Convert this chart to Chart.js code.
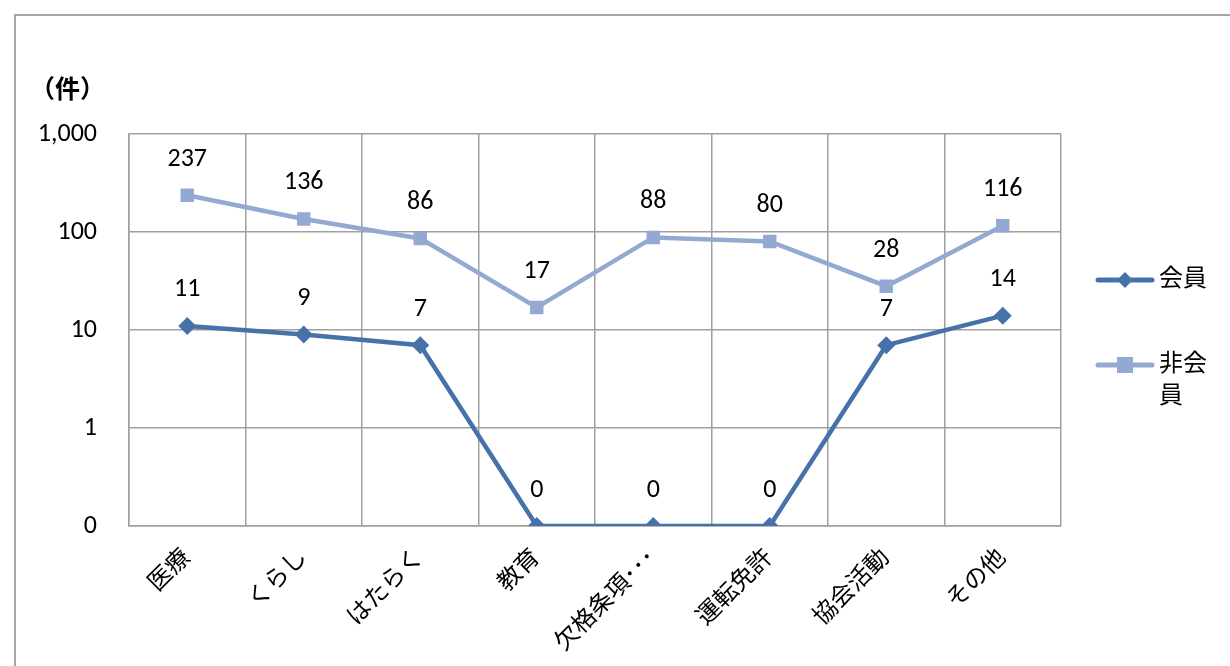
<!DOCTYPE html>
<html>
<head>
<meta charset="utf-8">
<script src="https://cdn.jsdelivr.net/npm/chart.js@4/dist/chart.umd.min.js"></script>
<style>
  body { margin: 0; background: #fff; }
  #wrap { position: relative; width: 1230px; height: 666px; overflow: hidden; }
  #frame { position: absolute; left: 14px; top: 14px; width: 1300px; height: 700px; border: 2px solid #a6a6a6; box-sizing: border-box; }
  canvas { position: absolute; left: 0; top: 0; }
</style>
</head>
<body>
<div id="wrap">
  <div id="frame"></div>
  <canvas id="chart" width="1230" height="666"></canvas>
</div>
<script>
const categories = ["医療", "くらし", "はたらく", "教育", "欠格条項･･･", "運転免許", "協会活動", "その他"];
// 0 件 is drawn at the bottom of the log axis (0.1), label shows "0"
const memberValues = [11, 9, 7, 0.1, 0.1, 0.1, 7, 14];
const nonMemberValues = [237, 136, 86, 17, 88, 80, 28, 116];
const yTicks = [0.1, 1, 10, 100, 1000];
const yTickLabels = ["0", "1", "10", "100", "1,000"];

const FONT = 'Calibri, Carlito, "Liberation Sans", "Noto Sans CJK JP", sans-serif';
const CJK_FONT = '"Noto Sans CJK JP", sans-serif';
const MEMBER_COLOR = "#4672aa";
const NONMEMBER_COLOR = "#94a9d2";

// draws value labels above each point
const valueLabels = {
  id: "valueLabels",
  afterDatasetsDraw(chart) {
    const ctx = chart.ctx;
    ctx.save();
    ctx.font = "26px " + FONT;
    ctx.fillStyle = "#000";
    ctx.textAlign = "center";
    ctx.textBaseline = "middle";
    chart.data.datasets.forEach(function (ds, i) {
      chart.getDatasetMeta(i).data.forEach(function (pt, j) {
        ctx.fillText(String(Math.round(ds.data[j])), pt.x, pt.y - 36);
      });
    });
    ctx.restore();
  }
};

// unit label and legend on the right
const extras = {
  id: "extras",
  afterDraw(chart) {
    const ctx = chart.ctx;
    ctx.save();
    ctx.font = "bold 25px " + CJK_FONT;
    ctx.fillStyle = "#000";
    ctx.textBaseline = "middle";
    ctx.fillText("（件）", 30, 88);

    const items = [
      { label: ["会員"], color: MEMBER_COLOR, style: "diamond", y: 280 },
      { label: ["非会", "員"], color: NONMEMBER_COLOR, style: "square", y: 365 }
    ];
    items.forEach(function (it) {
      ctx.strokeStyle = it.color;
      ctx.lineWidth = 5;
      ctx.lineCap = "round";
      ctx.beginPath();
      ctx.moveTo(1098, it.y);
      ctx.lineTo(1152, it.y);
      ctx.stroke();
      ctx.fillStyle = it.color;
      ctx.beginPath();
      if (it.style === "diamond") {
        ctx.moveTo(1125, it.y - 8);
        ctx.lineTo(1133, it.y);
        ctx.lineTo(1125, it.y + 8);
        ctx.lineTo(1117, it.y);
      } else {
        ctx.rect(1117, it.y - 8, 16, 16);
      }
      ctx.fill();
      ctx.fillStyle = "#000";
      ctx.font = "24px " + FONT;
      it.label.forEach(function (t, k) {
        ctx.fillText(t, 1159, it.y + k * 32);
      });
    });
    ctx.restore();
  }
};

new Chart(document.getElementById("chart"), {
  type: "line",
  data: {
    labels: categories,
    datasets: [
      {
        label: "会員",
        data: memberValues,
        borderColor: MEMBER_COLOR,
        backgroundColor: MEMBER_COLOR,
        borderWidth: 4.5,
        pointStyle: "rectRot",
        pointRadius: 9,
        pointBorderWidth: 0,
        tension: 0
      },
      {
        label: "非会員",
        data: nonMemberValues,
        borderColor: NONMEMBER_COLOR,
        backgroundColor: NONMEMBER_COLOR,
        borderWidth: 4.5,
        pointStyle: "rect",
        pointRadius: 9.5,
        pointBorderWidth: 0,
        tension: 0
      }
    ]
  },
  options: {
    responsive: false,
    animation: false,
    layout: { padding: { left: 14, top: 134, right: 169, bottom: 0 } },
    plugins: { legend: { display: false }, tooltip: { enabled: false } },
    scales: {
      x: {
        offset: true,
        grid: { color: "#a0a0a0", lineWidth: 1.5, offset: true, drawTicks: false },
        border: { color: "#a0a0a0", width: 1.5 },
        ticks: {
          color: "#000",
          font: { size: 24, family: FONT },
          minRotation: 45,
          maxRotation: 45,
          padding: 18,
          autoSkip: false
        },
        afterFit(scale) { scale.height = 140; }
      },
      y: {
        type: "logarithmic",
        min: 0.1,
        max: 1000,
        grid: { color: "#a0a0a0", lineWidth: 1.5, drawTicks: false },
        border: { color: "#a0a0a0", width: 1.5 },
        afterBuildTicks(scale) {
          scale.ticks = yTicks.map(function (v) { return { value: v, major: true }; });
        },
        ticks: {
          color: "#000",
          font: { size: 26, family: FONT },
          padding: 32,
          callback: function (v) {
            const i = yTicks.indexOf(v);
            return i >= 0 ? yTickLabels[i] : "";
          }
        },
        afterFit(scale) { scale.width = 115; }
      }
    }
  },
  plugins: [valueLabels, extras]
});
</script>
</body>
</html>
